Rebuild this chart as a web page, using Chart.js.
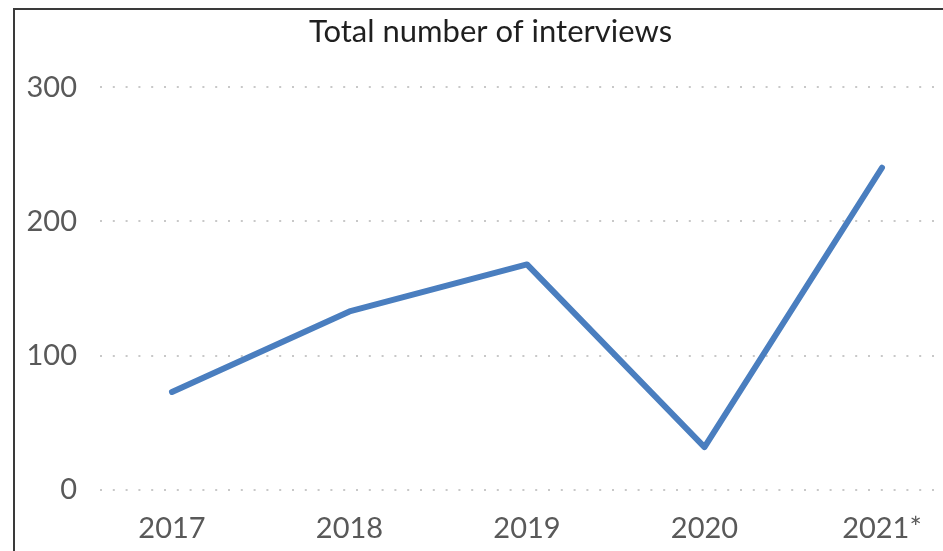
<!DOCTYPE html>
<html>
<head>
<meta charset="utf-8">
<script src="https://cdn.jsdelivr.net/npm/chart.js@4"></script>
<style>
    html, body { margin: 0; padding: 0; background: #fff; overflow: hidden; }
    #frame {
        position: absolute; left: 13px; top: 8px;
        width: 1000px; height: 600px;
        border: 2px solid #3a3a3a;
    }
    #wrap { position: absolute; left: 0; top: 0; width: 981px; height: 551px; }
</style>
</head>
<body>
<div id="frame"></div>
<div id="wrap"><canvas id="chart" width="981" height="551"></canvas></div>
<script>
// Chart data
const years = ['2017', '2018', '2019', '2020', '2021*'];
const interviews = [73, 133, 168, 32, 240];
const yTicks = [0, 100, 200, 300];

const font = "Lato, 'Open Sans', sans-serif";

const ctx = document.getElementById('chart').getContext('2d');

new Chart(ctx, {
    type: 'line',
    data: {
        datasets: [{
            label: 'Total number of interviews',
            data: interviews.map((v, i) => ({ x: i, y: v })),
            borderColor: '#4a7ebf',
            borderWidth: 6,
            borderCapStyle: 'round',
            borderJoinStyle: 'round',
            pointRadius: 0,
            tension: 0,
            fill: false
        }]
    },
    options: {
        responsive: false,
        animation: false,
        layout: { padding: { left: 0, right: 0, top: 0, bottom: 0 } },
        plugins: {
            legend: { display: false },
            tooltip: { enabled: false },
            title: {
                display: true,
                text: 'Total number of interviews',
                color: '#1f1f1f',
                font: { family: font, size: 31, weight: 'normal', lineHeight: 1.2 },
                padding: { top: 13, bottom: 37 }
            }
        },
        scales: {
            x: {
                type: 'linear',
                min: -0.4056,
                max: 4.558,
                afterBuildTicks: (scale) => {
                    scale.ticks = years.map((_, i) => ({ value: i }));
                },
                afterFit: (scale) => { scale.height = 61; },
                grid: { display: false },
                border: { display: false },
                ticks: {
                    callback: (v) => years[v],
                    color: '#595959',
                    font: { family: font, size: 29 },
                    padding: 13,
                    maxRotation: 0,
                    autoSkip: false
                }
            },
            y: {
                min: 0,
                max: 300,
                afterBuildTicks: (scale) => {
                    scale.ticks = yTicks.map(v => ({ value: v }));
                },
                afterFit: (scale) => { scale.width = 100; },
                border: { display: false, dash: [2, 10.8] },
                grid: {
                    color: '#c8c8c8',
                    lineWidth: 2,
                    drawTicks: false
                },
                ticks: {
                    color: '#595959',
                    font: { family: font, size: 29 },
                    padding: 23
                }
            }
        }
    }
});
</script>
</body>
</html>
